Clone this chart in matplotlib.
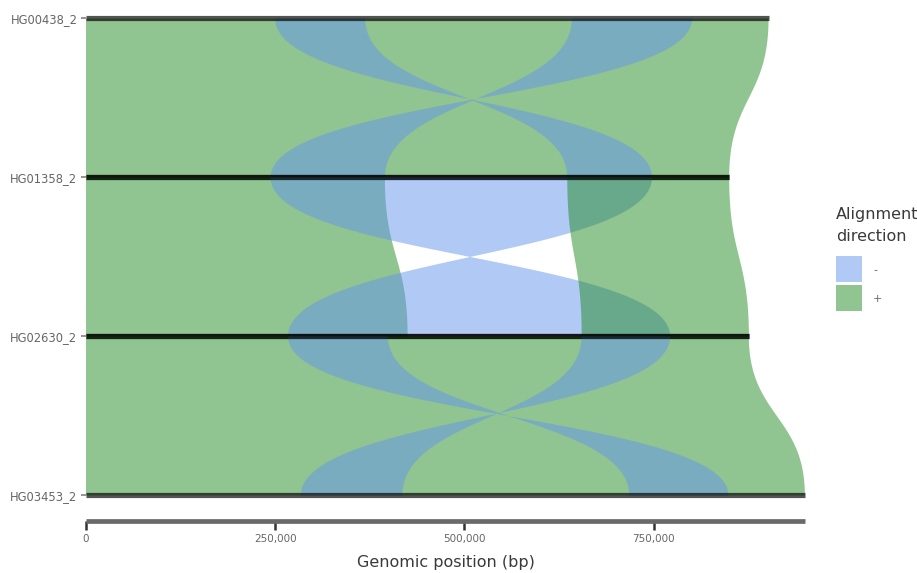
import numpy as np
import matplotlib
matplotlib.use("Agg")
import matplotlib.pyplot as plt
from matplotlib.patches import PathPatch, Rectangle
from matplotlib.path import Path

# ---------------- data ----------------
seq_names = ['HG00438_2', 'HG01358_2', 'HG02630_2', 'HG03453_2']
seq_lengths = [902000, 850000, 876000, 950000]

# alignments between consecutive sequences (top index -> top index + 1)
aln_top_seq   = [0, 0, 0, 1, 1, 1, 1, 1, 2, 2, 2]
aln_strand    = ['+', '-', '-', '+', '-', '-', '-', '+', '+', '-', '-']
aln_top_start = [0, 250000, 642000, 0, 244000, 395000, 636000, 636000, 0, 267000, 655000]
aln_top_end   = [902000, 369000, 801000, 395000, 395000, 636000, 748000, 850000, 876000, 399000, 772000]
aln_bot_start = [0, 636000, 244000, 0, 655000, 399000, 267000, 655000, 0, 718000, 284000]
aln_bot_end   = [850000, 748000, 395000, 425000, 772000, 655000, 399000, 876000, 950000, 849000, 418000]

x_ticks = [0, 250000, 500000, 750000]
x_tick_labels = ['0', '250,000', '500,000', '750,000']
legend_labels = ['-', '+']
strand_colors = {'-': 'cornflowerblue', '+': 'forestgreen'}

# ---------------- figure ----------------
W, H = 917, 573
fig = plt.figure(figsize=(W / 100, H / 100), dpi=100)
px_per_bp = 0.0007567
left_px = 86
xmax = 1.05e6
row_y = [3, 2, 1, 0]
px_per_unit = 159
ylo, yhi = -0.1, 3.1
top_px = 18.5 - (yhi - 3) * px_per_unit
ax_h_px = (yhi - ylo) * px_per_unit
ax = fig.add_axes([left_px / W, 1 - (top_px + ax_h_px) / H, xmax * px_per_bp / W, ax_h_px / H])
ax.set_xlim(0, xmax)
ax.set_ylim(ylo, yhi)
ax.patch.set_alpha(0)


def diag(x1, y1, x2, y2, n=150):
    t = np.linspace(0, 1, n)
    ym = (y1 + y2) / 2
    x = (1 - t) ** 3 * x1 + 3 * (1 - t) ** 2 * t * x1 + 3 * (1 - t) * t ** 2 * x2 + t ** 3 * x2
    y = (1 - t) ** 3 * y1 + 3 * (1 - t) ** 2 * t * ym + 3 * (1 - t) * t ** 2 * ym + t ** 3 * y2
    return x, y


def aln_polygon(i):
    r = aln_top_seq[i]
    yt, yb = row_y[r], row_y[r + 1]
    a1, a2 = aln_top_start[i], aln_top_end[i]
    b1, b2 = aln_bot_start[i], aln_bot_end[i]
    if aln_strand[i] == '-':
        b1, b2 = b2, b1
    x1, y1 = diag(a1, yt, b1, yb)
    x2, y2 = diag(a2, yt, b2, yb)
    xs = np.concatenate([x1, x2[::-1], x1[:1]])
    ys = np.concatenate([y1, y2[::-1], y1[:1]])
    return np.column_stack([xs, ys])


def group_patch(idx):
    verts, codes = [], []
    for i in idx:
        v = aln_polygon(i)
        c = [Path.LINETO] * len(v)
        c[0] = Path.MOVETO
        c[-1] = Path.CLOSEPOLY
        verts.append(v)
        codes += c
    return Path(np.vstack(verts), codes)


line_px = 5.2
z = 1
for pair in range(len(seq_names) - 1):
    idx = [i for i in range(len(aln_top_seq)) if aln_top_seq[i] == pair]
    # group consecutive alignments of same strand into one filled shape
    groups = []
    for i in idx:
        if groups and aln_strand[groups[-1][-1]] == aln_strand[i]:
            groups[-1].append(i)
        else:
            groups.append([i])
    for g in groups:
        patch = PathPatch(group_patch(g), facecolor=strand_colors[aln_strand[g[0]]],
                          alpha=0.5, edgecolor='none', linewidth=0, zorder=z, clip_on=False)
        ax.add_patch(patch)
        z += 1
    for r in (pair, pair + 1):
        ax.plot([0, seq_lengths[r]], [row_y[r], row_y[r]], color='black', alpha=0.67,
                lw=line_px * 0.72, solid_capstyle='butt', zorder=z, clip_on=False)
        z += 1

# axes styling
for s in ['top', 'right']:
    ax.spines[s].set_visible(False)
ax.spines['left'].set_position(('data', 0))
ax.spines['left'].set_color('none')
ax.spines['bottom'].set_position(('outward', 6.6))
ax.spines['bottom'].set_bounds(0, max(seq_lengths))
ax.spines['bottom'].set_color('#6a6a6a')
ax.spines['bottom'].set_linewidth(3.4)
ax.spines['bottom'].set_capstyle('butt')

ax.set_xticks(x_ticks)
ax.set_xticklabels(x_tick_labels)
ax.tick_params(axis='x', direction='out', length=6.8, width=1.8, color='#333333',
               labelsize=7.5, labelcolor='#666666', pad=3.0)
ax.set_yticks(row_y)
ax.set_yticklabels(seq_names)
ax.tick_params(axis='y', direction='out', length=3.6, width=1.1, color='#777777',
               labelsize=8.3, labelcolor='#666666', pad=2.6)

fig.text(446 / W, 1 - 563 / H, 'Genomic position (bp)', ha='center', va='center',
         fontsize=11.5, color='#3a3a3a')

# legend (manual)
fig.text(836 / W, 1 - 215 / H, 'Alignment', ha='left', va='center', fontsize=11.5, color='#3a3a3a')
fig.text(836 / W, 1 - 236 / H, 'direction', ha='left', va='center', fontsize=11.5, color='#3a3a3a')
key_tops = [256, 285]
for lab, kt in zip(legend_labels, key_tops):
    fig.add_artist(Rectangle((836 / W, 1 - (kt + 26) / H), 26 / W, 26 / H, transform=fig.transFigure,
                             facecolor=strand_colors[lab], alpha=0.5, edgecolor='none'))
    fig.text(873 / W, 1 - (kt + 14) / H, lab, ha='left', va='center', fontsize=8, color='#666666')

fig.savefig('out.png', dpi=100)
